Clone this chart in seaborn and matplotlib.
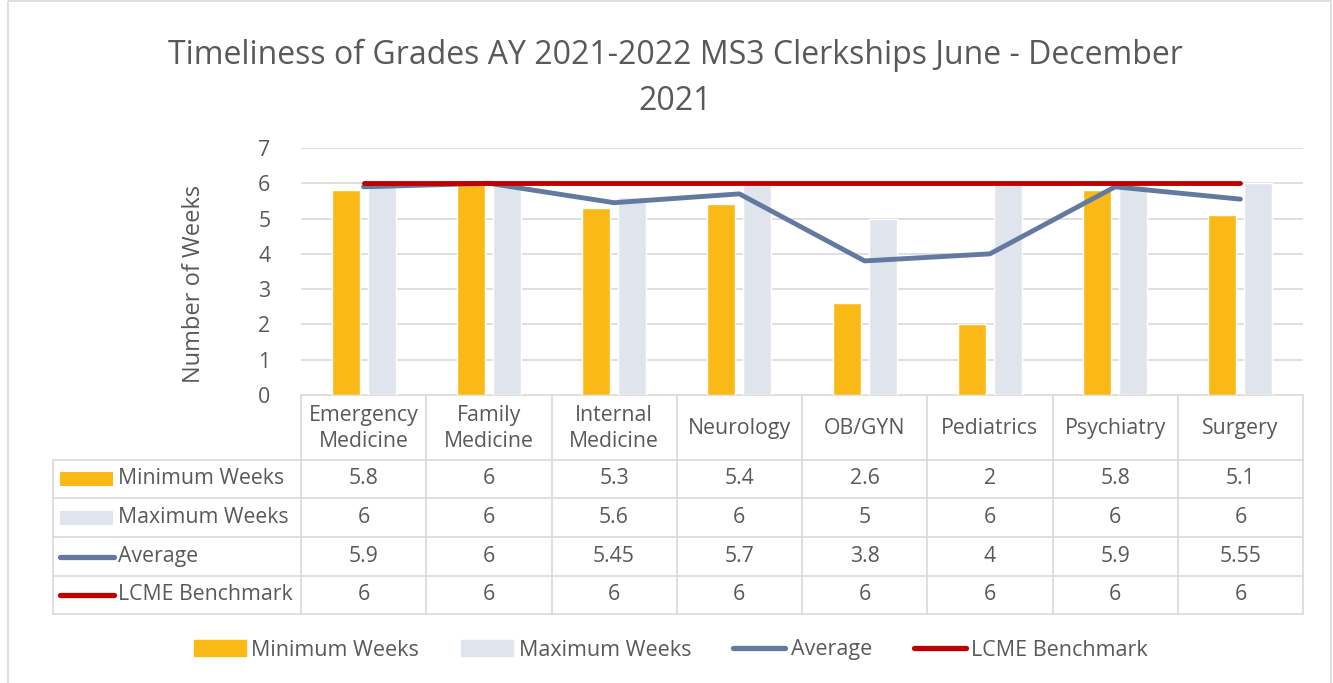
import matplotlib
matplotlib.use('Agg')
import matplotlib.pyplot as plt
from matplotlib.patches import Rectangle, Patch
from matplotlib.lines import Line2D
import seaborn as sns
import pandas as pd
import numpy as np

# data
clerkships = ['Emergency\nMedicine', 'Family\nMedicine', 'Internal\nMedicine', 'Neurology',
              'OB/GYN', 'Pediatrics', 'Psychiatry', 'Surgery']
min_weeks = [5.8, 6, 5.3, 5.4, 2.6, 2, 5.8, 5.1]
max_weeks = [6, 6, 5.6, 6, 5, 6, 6, 6]
average = [5.9, 6, 5.45, 5.7, 3.8, 4, 5.9, 5.55]
lcme = [6, 6, 6, 6, 6, 6, 6, 6]
series_names = ['Minimum Weeks', 'Maximum Weeks', 'Average', 'LCME Benchmark']

ORANGE = '#FBB917'
LIGHT = '#E0E4EC'
BLUE = '#6279A0'
RED = '#C00000'
TXT = '#595959'
GRID = '#D9D9D9'
FS = 15.3

sns.set_theme(style='white')
plt.rcParams['font.family'] = ['Open Sans', 'DejaVu Sans']
plt.rcParams['text.color'] = TXT

W, H = 1333, 683
fig = plt.figure(figsize=(W / 100, H / 100), dpi=100)

def fx(px):
    return px / W

def fy(py):
    return 1 - py / H

# plot area in pixels
L, R, T, B = 301, 1303, 148, 395
ax = fig.add_axes([fx(L), fy(B), fx(R) - fx(L), fy(T) - fy(B)])

n = len(clerkships)
bars = pd.DataFrame({
    'Clerkship': clerkships * 2,
    'Weeks': min_weeks + max_weeks,
    'Series': [series_names[0]] * n + [series_names[1]] * n,
})
sns.barplot(data=bars, x='Clerkship', y='Weeks', hue='Series',
            palette=[ORANGE, LIGHT], saturation=1, width=0.576, gap=0.22,
            legend=False, ax=ax, zorder=2)
sns.lineplot(x=np.arange(n), y=average, color=BLUE, linewidth=3.5,
             sort=False, ax=ax, zorder=3, solid_capstyle='round')
sns.lineplot(x=np.arange(n), y=lcme, color=RED, linewidth=3.5,
             sort=False, ax=ax, zorder=4, solid_capstyle='round')

ax.set_xlim(-0.5, n - 0.5)
ax.set_ylim(0, 7)
ax.set_yticks(range(8))
ax.set_xticks([])
ax.set_xlabel('')
ax.set_ylabel('Number of Weeks', fontsize=17, color=TXT)
ax.yaxis.set_label_coords(-0.095, 0.45)
ax.tick_params(axis='y', length=0, pad=22, labelsize=FS, labelcolor=TXT)
ax.yaxis.grid(True, color=GRID, linewidth=1.2, zorder=0)
ax.set_axisbelow(True)
for s in ax.spines.values():
    s.set_visible(False)

fig.text(fx(675), fy(55), 'Timeliness of Grades AY 2021-2022 MS3 Clerkships June - December',
         ha='center', va='center', fontsize=23, color=TXT)
fig.text(fx(675), fy(101), '2021', ha='center', va='center', fontsize=23, color=TXT)

# data table under the plot, drawn in pixel coordinates
tab = fig.add_axes([0, 0, 1, 1], zorder=-1)
tab.set_xlim(0, W)
tab.set_ylim(H, 0)
tab.axis('off')

col_w = (R - L) / n
rows = [B, 460, 498, 537, 576, 614]
for k in range(n + 1):
    tab.plot([L + k * col_w] * 2, [B, rows[-1]], color=GRID, lw=1.2)
tab.plot([53, 53], [rows[1], rows[-1]], color=GRID, lw=1.2)
tab.plot([L, R], [B, B], color=GRID, lw=1.2)
for y in rows[1:]:
    tab.plot([53, R], [y, y], color=GRID, lw=1.2)

for k, name in enumerate(clerkships):
    tab.text(L + (k + 0.5) * col_w, (rows[0] + rows[1]) / 2 + 1, name, ha='center',
             va='center', fontsize=FS, color=TXT, linespacing=1.35)

table_values = [min_weeks, max_weeks, average, lcme]
for r, (name, vals) in enumerate(zip(series_names, table_values)):
    yc = (rows[r + 1] + rows[r + 2]) / 2
    if r < 2:
        tab.add_patch(Rectangle((60, yc - 7), 53, 14, color=[ORANGE, LIGHT][r], lw=0))
    else:
        tab.plot([60, 114], [yc, yc], color=[BLUE, RED][r - 2], lw=3.8,
                 solid_capstyle='round')
    tab.text(118, yc, name, ha='left', va='center', fontsize=FS, color=TXT)
    for k, v in enumerate(vals):
        tab.text(L + (k + 0.5) * col_w, yc, f'{v:g}', ha='center', va='center',
                 fontsize=FS, color=TXT)

# outer chart border
tab.add_patch(Rectangle((8, 1), W - 10, H + 5, fill=False, edgecolor=GRID, lw=1.2))

handles = [Patch(color=ORANGE), Patch(color=LIGHT),
           Line2D([], [], color=BLUE, lw=3.8, solid_capstyle='round'),
           Line2D([], [], color=RED, lw=3.8, solid_capstyle='round')]
fig.legend(handles, series_names, loc='center', bbox_to_anchor=(fx(671), fy(650)),
           ncol=4, frameon=False, fontsize=15.5, handlelength=2.42, handleheight=0.75,
           handletextpad=0.25, columnspacing=1.95, labelcolor=TXT)

fig.savefig('out.png', dpi=100)
